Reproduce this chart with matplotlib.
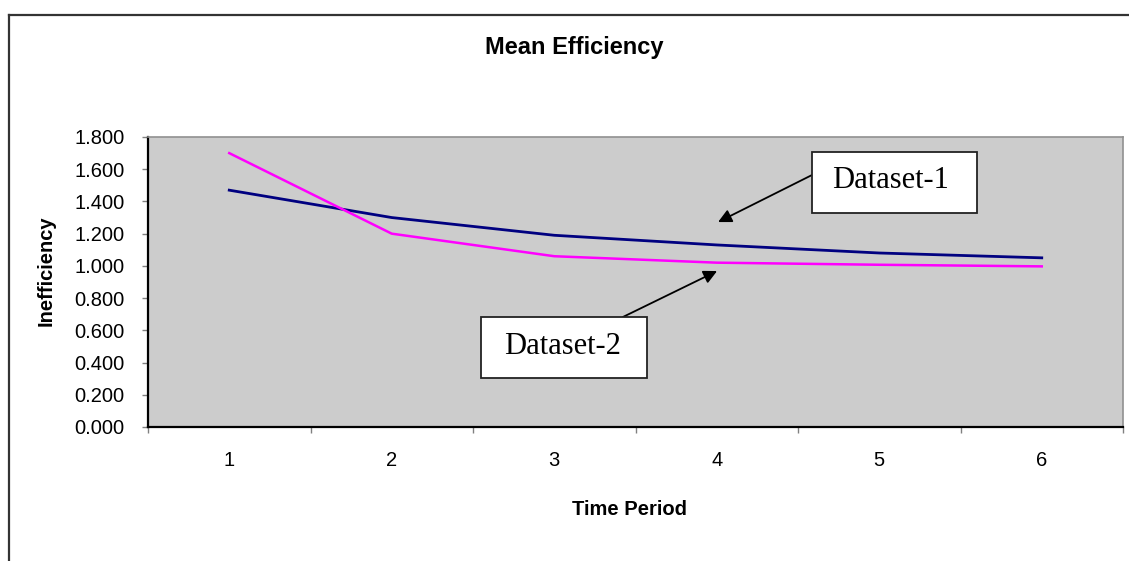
import matplotlib
matplotlib.use('Agg')
import matplotlib.pyplot as plt
from matplotlib.lines import Line2D
from matplotlib.patches import Rectangle
from matplotlib.ticker import FixedLocator, FixedFormatter

plt.rcParams['font.family'] = ['Liberation Sans', 'DejaVu Sans']

# data
periods = [1, 2, 3, 4, 5, 6]
dataset1 = [1.47, 1.30, 1.19, 1.13, 1.08, 1.05]
dataset2 = [1.70, 1.20, 1.06, 1.02, 1.007, 0.997]
yticks = [0.0, 0.2, 0.4, 0.6, 0.8, 1.0, 1.2, 1.4, 1.6, 1.8]

W, H = 1129, 561
fig = plt.figure(figsize=(W / 100, H / 100), dpi=100)
ax = fig.add_axes([148 / W, 1 - 427 / H, (1123 - 148) / W, (427 - 137) / H])
ax.set_facecolor('#cccccc')

ax.plot(periods, dataset1, color='#000080', lw=2.0, solid_joinstyle='round')
ax.plot(periods, dataset2, color='#ff00ff', lw=1.8, solid_joinstyle='round')

ax.set_xlim(0.5, 6.5)
ax.set_ylim(0, 1.8)

# category axis: ticks between categories, labels at centres
ax.xaxis.set_major_locator(FixedLocator([p - 0.5 for p in periods] + [periods[-1] + 0.5]))
ax.xaxis.set_major_formatter(FixedFormatter([]))
ax.xaxis.set_minor_locator(FixedLocator(periods))
ax.xaxis.set_minor_formatter(FixedFormatter([str(p) for p in periods]))
ax.tick_params(axis='x', which='major', direction='out', length=4, width=1, color='#808080')
ax.tick_params(axis='x', which='minor', length=0, pad=17, labelsize=14.5)

ax.set_yticks(yticks)
ax.set_yticklabels(['{:.3f}'.format(v) for v in yticks])
ax.tick_params(axis='y', direction='out', length=4, width=1, color='#808080', pad=13, labelsize=14.5)

for side in ['top', 'right']:
    ax.spines[side].set_color('#909090')
    ax.spines[side].set_linewidth(1.2)
for side in ['left', 'bottom']:
    ax.spines[side].set_color('black')
    ax.spines[side].set_linewidth(1.6)

ax.set_title('Mean Efficiency', fontsize=17, fontweight='bold', x=0.437, y=1.31, va='center', pad=0)
ax.set_xlabel('Time Period', fontsize=14.5, fontweight='bold', va='center')
ax.xaxis.set_label_coords(0.494, -0.286)
ax.set_ylabel('Inefficiency', fontsize=14.5, fontweight='bold', va='center')
ax.yaxis.set_label_coords(-0.1046, 0.538)

# callout boxes
boxes = [
    ('Dataset-1', (4.586, 1.328), 1.016, 0.379, (5.072, 1.527), (4.586, 1.564), (4.008, 1.272)),
    ('Dataset-2', (2.549, 0.304), 1.022, 0.379, (3.048, 0.497), (3.423, 0.683), (4.002, 0.968)),
]
for label, corner, bw, bh, tpos, start, tip in boxes:
    ax.add_patch(Rectangle(corner, bw, bh, facecolor='white', edgecolor='#222222', lw=1.3, zorder=5))
    ax.text(tpos[0], tpos[1], label, fontsize=22, family=['Liberation Serif', 'DejaVu Serif'],
            ha='center', va='center', zorder=6)
    ax.annotate('', xy=tip, xytext=start,
                arrowprops=dict(arrowstyle='-|>', color='black', lw=1.3, mutation_scale=20,
                                shrinkA=0, shrinkB=0), zorder=4)

# outer chart frame (runs off the right and bottom of the image)
fig.add_artist(Line2D([9 / W, 1.01], [1 - 15 / H, 1 - 15 / H], color='#333333', lw=1.6))
fig.add_artist(Line2D([9 / W, 9 / W], [1 - 15 / H, -0.01], color='#333333', lw=1.6))

fig.savefig('out.png', dpi=100)
